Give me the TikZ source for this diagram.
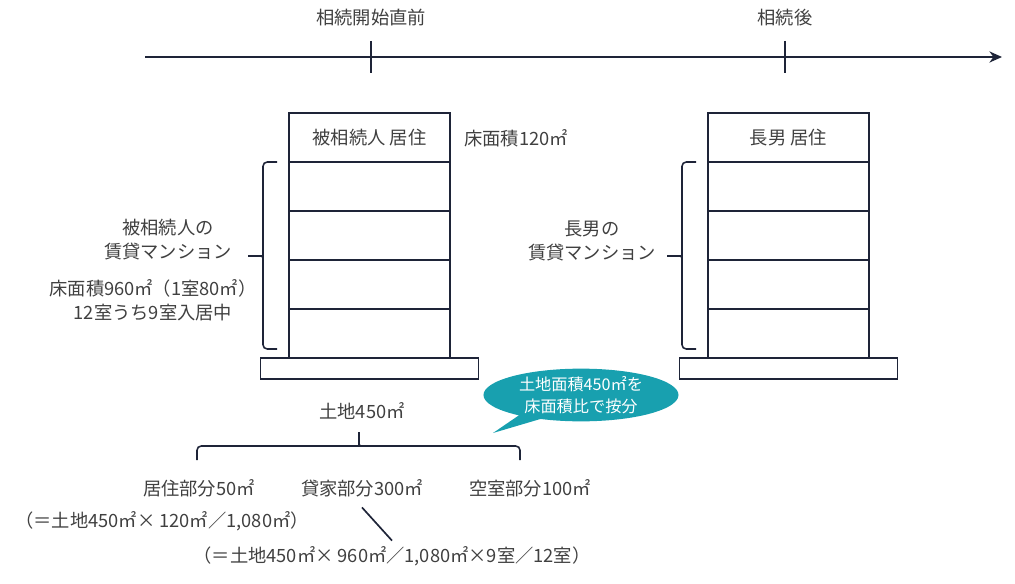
\documentclass[tikz,border=0pt]{standalone}
\usepackage{fontspec}
\setmainfont{Noto Sans CJK JP}
\usetikzlibrary{arrows.meta,positioning,shapes.callouts,calc}
\definecolor{ink}{RGB}{30,36,56}
\definecolor{inktext}{RGB}{64,64,64}
\definecolor{bubblefill}{RGB}{24,160,175}
\tikzset{
    %Define standard arrow tip
    >={Stealth[length=9pt,width=8pt]},
    %Define style for texts
    note/.style={
           inner sep=1pt,
           font=\fontsize{13pt}{17pt}\selectfont,
           text=inktext,
           align=center},
    %Define style for floors
    floorbox/.style={
           rectangle,
           draw=ink, line width=1.3pt,
           minimum width=4.025cm,
           minimum height=1.225cm,
           inner sep=0pt, outer sep=0pt,
           font=\fontsize{13pt}{17pt}\selectfont,
           text=inktext},
    groundbox/.style={
           rectangle,
           draw=ink, line width=1.3pt,
           minimum width=5.45cm,
           minimum height=0.525cm,
           inner sep=0pt, outer sep=0pt},
    bubble/.style={
           ellipse callout,
           fill=bubblefill,
           minimum width=4.875cm,
           minimum height=1.3cm,
           inner sep=0pt,
           font=\fontsize{11.5pt}{15.5pt}\selectfont,
           text=white,
           align=center},
    % Define brace style
    bracketline/.style={
           draw=ink,
           line width=1.1pt,
           rounded corners=3pt}
}
\begin{document}
\begin{tikzpicture}[x=0.025cm,y=-0.025cm]
\useasboundingbox (0,0) rectangle (1015,584);

 %time line
\coordinate (start) at (145,57);
\coordinate (end) at (1002,57);
\coordinate (t1) at (371,57);
\coordinate (t2) at (785,57);
\draw[->, ink, line width=1pt] (start) -- (end);
\draw[ink, line width=1pt] (t1) ++(0,-16) -- ++(0,32);
\draw[ink, line width=1pt] (t2) ++(0,-16) -- ++(0,32);
\node[note](before) at (371,18){相続開始直前};
\node[note](after) at (785,18){相続後};

 %buildings
\node[floorbox](a0) at (369.5,137.5){被相続人 居住};
\node[floorbox, below=0pt of a0](a1){};
\node[floorbox, below=0pt of a1](a2){};
\node[floorbox, below=0pt of a2](a3){};
\node[floorbox, below=0pt of a3](a4){};
\node[groundbox, below=0pt of a4](a5){};

\node[floorbox](b0) at (788.5,137.5){長男 居住};
\node[floorbox, below=0pt of b0](b1){};
\node[floorbox, below=0pt of b1](b2){};
\node[floorbox, below=0pt of b2](b3){};
\node[floorbox, below=0pt of b3](b4){};
\node[groundbox, below=0pt of b4](b5){};

\node[note](own) at (516,138){床面積120㎡};

 %braces
\foreach \x in {263,682}{
  \draw[bracketline] (\x+14,162) -- (\x,162) -- (\x,349) -- (\x+14,349);
  \draw[bracketline] (\x,251) .. controls (\x,256) .. (\x-5,256) -- (\x-15,256);
  \draw[bracketline] (\x,261) .. controls (\x,256) .. (\x-5,256);
}
\node[note](rent1) at (168,240){被相続人の\\賃貸マンション};
\node[note](area1) at (153,300){床面積960㎡（1室80㎡）\\12室うち9室入居中};
\node[note](rent2) at (592,241){長男の\\賃貸マンション};

 %land
\node[note](land) at (362,411){土地450㎡};
\draw[bracketline] (197,460) -- (197,446) -- (520,446) -- (520,460);
\draw[bracketline] (354,446) .. controls (359,446) .. (359,441) -- (359,432);
\draw[bracketline] (364,446) .. controls (359,446) .. (359,441);

\coordinate (tail) at (493,433);
\node[bubble, callout absolute pointer=(tail)](ratio) at (581,395){土地面積450㎡を\\床面積比で按分};

\node[note](home) at (199,488){居住部分50㎡};
\node[note](rented) at (362,488){貸家部分300㎡};
\node[note](vacant) at (530,488){空室部分100㎡};
\node[note](calc1) at (162,521){（＝土地450㎡× 120㎡／1,080㎡）};
\node[note](calc2) at (392,556){（＝土地450㎡× 960㎡／1,080㎡×9室／12室）};

\path[draw=ink, line width=1.2pt]
    ($(rented.south)+(0,9)$) edge ($(calc2.north)+(0,-4)$);

\end{tikzpicture}
\end{document}
